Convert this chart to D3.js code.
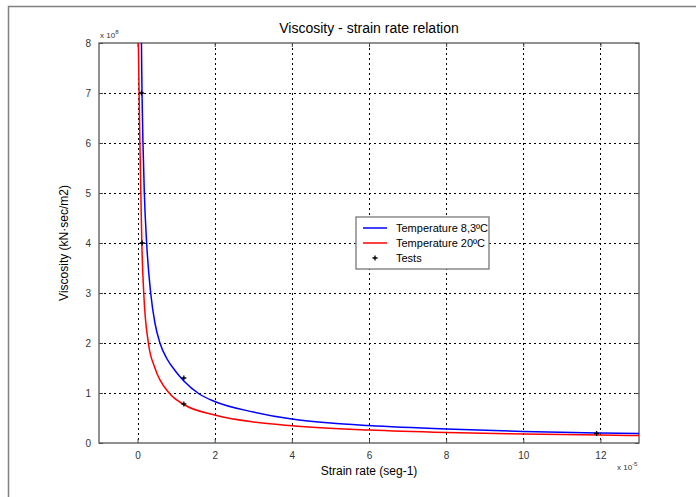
<!DOCTYPE html>
<html>
<head>
<meta charset="utf-8">
<script src="https://cdn.jsdelivr.net/npm/d3@7"></script>
<style>
  body { margin: 0; background: #fff; }
  svg { display: block; font-family: Arial, "Liberation Sans", sans-serif; }
</style>
</head>
<body>
<div id="container"></div>
<script>
// strain rate in units of 1e-5, viscosity in units of 1e8
const blueStrain = [0.1, 0.115, 0.14, 0.175, 0.235, 0.34, 0.45, 0.58, 0.75, 1.0, 1.2, 1.6, 2, 3, 4, 5, 6, 8, 10, 12, 13];
const blueVisc  = [8.0, 7.0, 6.0, 5.0, 4.0, 3.0, 2.4, 2.0, 1.7, 1.42, 1.24, 0.98, 0.83, 0.62, 0.48, 0.40, 0.35, 0.28, 0.23, 0.20, 0.19];
const redStrain = [0.02, 0.04, 0.06, 0.085, 0.11, 0.16, 0.28, 0.45, 0.82, 1.2, 2, 3, 4, 6, 8, 10, 12, 13];
const redVisc   = [8.0, 7.0, 6.0, 5.0, 4.0, 3.0, 2.0, 1.5, 1.0, 0.77, 0.56, 0.42, 0.345, 0.26, 0.21, 0.18, 0.16, 0.15];
const testStrain = [0.1, 0.12, 1.2, 1.2, 11.9];
const testVisc   = [7.0, 4.0, 1.3, 0.78, 0.19];
const xTicks = [0, 2, 4, 6, 8, 10, 12];
const yTicks = [0, 1, 2, 3, 4, 5, 6, 7, 8];
const legendLabels = ['Temperature 8,3ºC', 'Temperature 20ºC', 'Tests'];

const W = 696, H = 497;
const margin = { top: 43, right: 57, bottom: 54, left: 99 };
const width = W - margin.left - margin.right;
const height = H - margin.top - margin.bottom;

const svg = d3.select('#container').append('svg')
  .attr('width', W)
  .attr('height', H);

// figure frame
svg.append('path')
  .attr('d', `M8.5,${H} V6.5 H${W}`)
  .attr('fill', 'none')
  .attr('stroke', '#808080')
  .attr('stroke-width', 1.5);

const x = d3.scaleLinear().domain([-1, 13]).range([0, width]);
const y = d3.scaleLinear().domain([0, 8]).range([height, 0]);

const g = svg.append('g').attr('transform', `translate(${margin.left},${margin.top})`);

svg.append('defs').append('clipPath').attr('id', 'clip')
  .append('rect').attr('width', width).attr('height', height);

// grid
g.append('g').selectAll('line').data(xTicks).enter().append('line')
  .attr('x1', (d) => Math.round(x(d)) + 0.5).attr('x2', (d) => Math.round(x(d)) + 0.5)
  .attr('y1', 0).attr('y2', height)
  .attr('stroke', '#000').attr('stroke-dasharray', '2,3');
g.append('g').selectAll('line').data(yTicks.slice(1, -1)).enter().append('line')
  .attr('y1', (d) => Math.round(y(d)) + 0.5).attr('y2', (d) => Math.round(y(d)) + 0.5)
  .attr('x1', 0).attr('x2', width)
  .attr('stroke', '#000').attr('stroke-dasharray', '2,3');

// axes with inward ticks
const axisStyle = (sel) => {
  sel.select('.domain').remove();
  sel.selectAll('line').attr('stroke', '#444');
  sel.selectAll('text').attr('fill', '#333').style('font-size', '10px');
};
g.append('g').attr('transform', `translate(0,${height})`)
  .call(d3.axisBottom(x).tickValues(xTicks).tickSizeInner(-4).tickSizeOuter(0).tickPadding(9))
  .call(axisStyle);
g.append('g')
  .call(d3.axisLeft(y).tickValues(yTicks).tickSizeInner(-4).tickSizeOuter(0).tickPadding(8))
  .call(axisStyle);
g.append('g')
  .call(d3.axisTop(x).tickValues(xTicks).tickSizeInner(-4).tickSizeOuter(0).tickFormat(''))
  .call(axisStyle);
g.append('g').attr('transform', `translate(${width},0)`)
  .call(d3.axisRight(y).tickValues(yTicks).tickSizeInner(-4).tickSizeOuter(0).tickFormat(''))
  .call(axisStyle);

// box
g.append('rect')
  .attr('width', width).attr('height', height)
  .attr('fill', 'none').attr('stroke', '#555').attr('stroke-width', 1.3);

// curves
const line = d3.line()
  .x((d) => x(d[0]))
  .y((d) => y(d[1]))
  .curve(d3.curveMonotoneX);

const curves = g.append('g').attr('clip-path', 'url(#clip)');
curves.append('path')
  .datum(redStrain.map((s, i) => [s, redVisc[i]]))
  .attr('d', line).attr('fill', 'none').attr('stroke', '#ff0000').attr('stroke-width', 1.5);
curves.append('path')
  .datum(blueStrain.map((s, i) => [s, blueVisc[i]]))
  .attr('d', line).attr('fill', 'none').attr('stroke', '#0000ff').attr('stroke-width', 1.5);

// test markers
const plus = (sel, size) => sel.append('path')
  .attr('d', `M${-size},0H${size}M0,${-size}V${size}`)
  .attr('stroke', '#000').attr('stroke-width', 1.3).attr('fill', 'none');

g.append('g').selectAll('g').data(testStrain.map((s, i) => [s, testVisc[i]])).enter().append('g')
  .attr('transform', (d) => `translate(${x(d[0])},${y(d[1])})`)
  .each(function() { plus(d3.select(this), 2.5); });

// title and labels
svg.append('text')
  .attr('x', 369).attr('y', 33)
  .attr('text-anchor', 'middle')
  .style('font-size', '14px')
  .text('Viscosity - strain rate relation');

svg.append('text')
  .attr('x', 369).attr('y', 475)
  .attr('text-anchor', 'middle')
  .style('font-size', '12px')
  .text('Strain rate (seg-1)');

svg.append('text')
  .attr('transform', 'translate(68,243) rotate(-90)')
  .attr('text-anchor', 'middle')
  .style('font-size', '12px')
  .text('Viscosity (kN·sec/m2)');

// exponent labels
const expo = (px, py, power) => {
  const t = svg.append('text').attr('x', px).attr('y', py)
    .attr('fill', '#333').style('font-size', '8px');
  t.append('tspan').text('x 10');
  t.append('tspan').attr('dy', -4).style('font-size', '6px').text(power);
};
expo(100, 38, '8');
expo(617, 470, '-5');

// legend
const lg = svg.append('g').attr('transform', 'translate(356,217)');
lg.append('rect')
  .attr('width', 133).attr('height', 52)
  .attr('fill', '#fff').attr('stroke', '#777').attr('stroke-width', 1.3);
const legendColors = ['#0000ff', '#ff0000', null];
legendLabels.forEach((label, i) => {
  const row = lg.append('g').attr('transform', `translate(0,${11 + i * 15})`);
  if (legendColors[i]) {
    row.append('line').attr('x1', 7).attr('x2', 31)
      .attr('stroke', legendColors[i]).attr('stroke-width', 1.5);
  } else {
    plus(row.append('g').attr('transform', 'translate(19,0)'), 2.5);
  }
  row.append('text').attr('x', 40).attr('y', 4)
    .style('font-size', '11px').text(label);
});
</script>
</body>
</html>
